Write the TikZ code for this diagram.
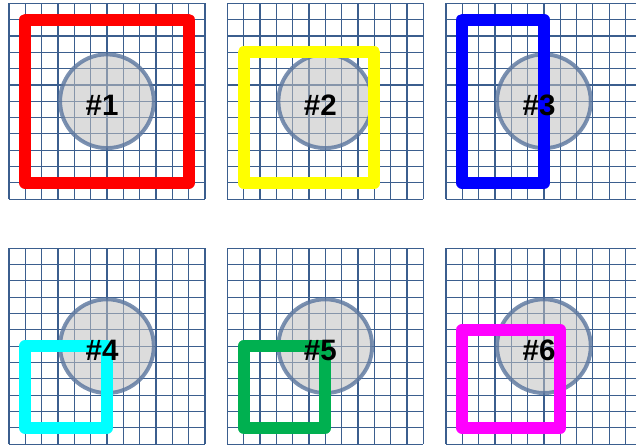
\documentclass[tikz,border=0pt]{standalone}
\usepackage{fontspec}
\setmainfont{Liberation Sans}
\usepackage{tikz}
\usetikzlibrary{positioning}
\definecolor{GridBlue}{HTML}{3B5E8E}
\definecolor{RingBlue}{HTML}{5A759E}
\definecolor{DiskGray}{HTML}{C1C1C1}
\definecolor{BoxRed}{HTML}{FF0000}
\definecolor{BoxYellow}{HTML}{FFFF00}
\definecolor{BoxBlue}{HTML}{0000FF}
\definecolor{BoxCyan}{HTML}{00FFFF}
\definecolor{BoxGreen}{HTML}{00B050}
\definecolor{BoxMagenta}{HTML}{FF00FF}

\begin{document}
\begin{tikzpicture}[x=0.40825cm,y=-0.40825cm,
    gridline/.style={draw=GridBlue,line width=0.85pt},
    disk/.style={draw=RingBlue,draw opacity=0.8,fill=DiskGray,fill opacity=0.56,line width=2.8pt},
    frame/.style={line width=8.6pt,line join=round},
    tag/.style={font=\fontsize{21}{24}\selectfont\bfseries,text=black,inner sep=0pt}]
  \useasboundingbox (0,0) rectangle (38.95,27.25);
  % one panel per entry: offset, colour, box corners, number
  \foreach \px/\py/\col/\ax/\ay/\bx/\by/\n in {
      0.55/0.20/BoxRed/1/1/11/11/1, 13.92/0.20/BoxYellow/1/3/9/11/2, 27.31/0.20/BoxBlue/1/1/6/11/3,
      0.55/15.20/BoxCyan/1/6/6/11/4, 13.92/15.20/BoxGreen/1/6/6/11/5, 27.31/15.20/BoxMagenta/1/5/7/11/6}{
    \begin{scope}[shift={(\px,\py)}]
      \foreach \i in {0,...,12} {
        \draw[gridline] (\i,0) -- (\i,12);
        \draw[gridline] (0,\i) -- (12,\i);
      }
      \path[disk] (6,6) circle[radius=2.87];
      \draw[frame,draw=\col] (\ax,\ay) rectangle (\bx,\by);
      \node[tag] (tag\n) at (5.7,6.25) {\#\n};
    \end{scope}
  }
\end{tikzpicture}
\end{document}
